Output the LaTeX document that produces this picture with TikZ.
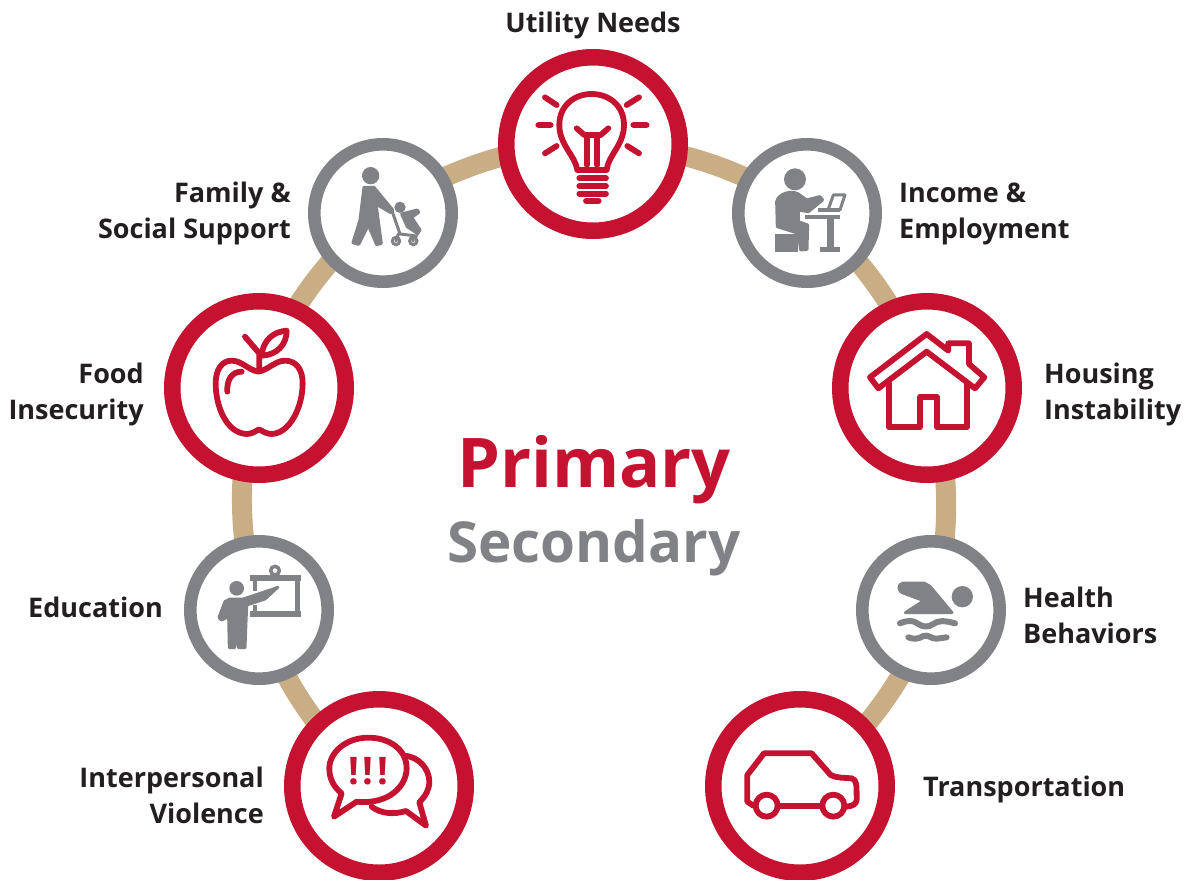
\documentclass[tikz,border=0pt]{standalone}
\usepackage{fontspec}
\setmainfont{Open Sans}
\usetikzlibrary{backgrounds}
\definecolor{ringred}{HTML}{C41230}
\definecolor{ringgrey}{HTML}{808285}
\definecolor{arctan}{HTML}{C9AD84}
\definecolor{labelink}{HTML}{231F20}
\tikzset{
  primaryring/.style={circle,draw=ringred,fill=white,line width=16.5pt,minimum size=173.5pt,inner sep=0pt,outer sep=0pt},
  secondaryring/.style={circle,draw=ringgrey,fill=white,line width=12.6pt,minimum size=137.4pt,inner sep=0pt,outer sep=0pt},
  arcseg/.style={draw=arctan,line width=20pt,looseness=0.85},
  lab/.style={font=\fontsize{27}{36}\selectfont\bfseries,text=labelink,inner sep=0pt},
  redline/.style={draw=ringred,line width=5.8pt,line cap=round,line join=round},
  greyfill/.style={fill=ringgrey,draw=ringgrey,line width=3pt,line join=round},
  greyline/.style={draw=ringgrey,line cap=round,line join=round},
  icon/.style={x=0.3333pt,y=-0.3333pt}
}
\begin{document}
\begin{tikzpicture}[x=1pt,y=-1pt]
\useasboundingbox (0,0) rectangle (1187,879);
% rings
\node[primaryring] (utility) at (593,144) {};
\node[secondaryring] (income) at (807,213) {};
\node[primaryring] (housing) at (927,388) {};
\node[secondaryring] (health) at (931,610) {};
\node[primaryring] (transport) at (800,786) {};
\node[secondaryring] (family) at (383,213) {};
\node[primaryring] (food) at (259,388) {};
\node[secondaryring] (education) at (259,610) {};
\node[primaryring] (violence) at (379,786) {};
\begin{pgfonlayer}{background}
\fill[white] (0,0) rectangle (1187,879);
\draw[arcseg] (utility.center) to[bend left=18] (income.center);
\draw[arcseg] (income.center) to[bend left=18] (housing.center);
\draw[arcseg] (housing.center) to[bend left=18] (health.center);
\draw[arcseg] (health.center) to[bend left=18] (transport.center);
\draw[arcseg] (utility.center) to[bend right=18] (family.center);
\draw[arcseg] (family.center) to[bend right=18] (food.center);
\draw[arcseg] (food.center) to[bend right=18] (education.center);
\draw[arcseg] (education.center) to[bend right=18] (violence.center);
\end{pgfonlayer}
% labels
\node[lab] (lutility) at (593,25) {Utility Needs};
\node[lab,anchor=east,align=right] (lfamily) at (291,213) {Family \&\\Social Support};
\node[lab,anchor=west,align=left] (lincome) at (899,214) {Income \&\\Employment};
\node[lab,anchor=east,align=right] (lfood) at (144,394) {Food\\Insecurity};
\node[lab,anchor=west,align=left] (lhousing) at (1044,394) {Housing\\Instability};
\node[lab,anchor=east] (leducation) at (163,607) {Education};
\node[lab,anchor=west,align=left] (lhealth) at (1023,615) {Health\\Behaviors};
\node[lab,anchor=east,align=right] (lviolence) at (264,795) {Interpersonal\\Violence};
\node[lab,anchor=west] (ltransport) at (923,789) {Transportation};
\node[font=\fontsize{68.5}{68.5}\selectfont\bfseries,text=ringred,inner sep=0pt] (primary) at (594,470) {Primary};
\node[font=\fontsize{56.5}{56.5}\selectfont\bfseries,text=ringgrey,inner sep=0pt] (secondary) at (594,548) {Secondary};
% bulb
\begin{scope}[shift={(490,70)},icon]
\draw[redline] (262,300) .. controls (255,255) and (208,225) .. (208,165) .. controls (208,105) and (255,72) .. (305,72) .. controls (355,72) and (402,105) .. (402,165) .. controls (402,225) and (355,255) .. (350,300) -- cycle;
\draw[redline] (260,175) -- (283,195) -- (332,195) -- (355,175);
\draw[redline] (290,195) -- (290,285) (322,195) -- (322,285);
\draw[redline] (268,325) -- (348,325) (268,348) -- (348,348) (268,371) -- (348,371);
\draw[redline] (288,393) -- (326,393);
\draw[redline] (165,82) -- (200,105) (145,165) -- (182,165) (165,250) -- (200,228);
\draw[redline] (447,82) -- (410,105) (430,165) -- (470,165) (447,250) -- (412,228);
\end{scope}
% family
\begin{scope}[shift={(300,130)},icon]
\fill[ringgrey] (212,137) circle[radius=26];
\path[greyfill] (192,172) -- (222,172) -- (278,240) -- (272,248) -- (228,222) -- (244,340) -- (230,344) -- (205,285) -- (176,343) -- (159,338) -- (180,270) -- cycle;
\fill[ringgrey] (300,232) circle[radius=17];
\path[greyfill] (305,252) -- (352,240) -- (356,247) -- (335,262) -- (360,300) -- (353,311) -- (322,290) -- cycle;
\draw[greyline,line width=3pt] (277,245) -- (300,312) -- (350,318) (295,312) -- (288,333) (335,316) -- (340,333);
\draw[ringgrey,line width=3pt] (288,333) circle[radius=11] (340,333) circle[radius=11];
\end{scope}
% income
\begin{scope}[shift={(725,130)},icon]
\fill[ringgrey] (210,148) circle[radius=33];
\path[greyfill] (157,290) -- (155,215) .. controls (160,190) and (200,180) .. (220,192) -- (245,210) -- (285,200) -- (293,210) -- (250,245) -- (220,240) -- (220,275) -- (248,285) -- (246,358) -- (227,360) -- (220,310) -- cycle;
\fill[ringgrey] (150,312) rectangle (218,366);
\fill[ringgrey] (240,255) rectangle (345,268);
\fill[ringgrey] (306,268) rectangle (328,355);
\fill[ringgrey] (285,352) rectangle (345,366);
\fill[ringgrey] (278,235) rectangle (345,246);
\draw[greyline,line width=3pt] (310,238) -- (325,195) -- (360,195) -- (345,240);
\end{scope}
% apple
\begin{scope}[shift={(160,290)},icon]
\draw[redline] (295,245) .. controls (265,240) and (245,212) .. (215,212) .. controls (185,212) and (167,240) .. (167,280) .. controls (167,350) and (200,430) .. (260,432) .. controls (275,432) and (285,425) .. (297,418) .. controls (310,425) and (320,432) .. (335,432) .. controls (390,430) and (428,350) .. (428,280) .. controls (428,240) and (410,212) .. (375,212) .. controls (345,212) and (325,240) .. (295,245);
\draw[redline] (202,305) .. controls (200,270) and (215,245) .. (245,245);
\draw[redline] (298,240) -- (298,190) -- (255,140);
\draw[redline] (305,195) .. controls (310,150) and (340,125) .. (380,122) .. controls (380,165) and (350,195) .. (305,197);
\end{scope}
% house
\begin{scope}[shift={(825,290)},icon]
\draw[redline] (135,262) -- (305,132) -- (370,182) -- (370,160) -- (432,160) -- (432,222) -- (478,262) -- (450,295) -- (305,185) -- (160,295) -- cycle;
\draw[redline] (192,280) -- (192,412) -- (285,412) -- (285,320) -- (335,320) -- (335,412) -- (425,412) -- (425,280);
\end{scope}
% education
\begin{scope}[shift={(180,530)},icon]
\fill[ringgrey] (170,175) circle[radius=22];
\path[greyfill] (150,207) -- (190,207) -- (280,177) -- (293,172) -- (255,207) -- (200,225) -- (195,353) -- (176,353) -- (170,300) -- (164,353) -- (148,353) -- (146,260) -- (124,270) -- (117,262) -- (135,215) -- cycle;
\fill[ringgrey] (210,136) rectangle (362,153);
\fill[ringgrey] (210,244) rectangle (362,262);
\fill[ringgrey] (344,150) rectangle (359,248);
\fill[ringgrey] (218,150) rectangle (232,182);
\fill[ringgrey] (218,225) rectangle (232,248);
\draw[ringgrey,line width=3.5pt] (285,122) circle[radius=13];
\end{scope}
% health
\begin{scope}[shift={(850,530)},icon]
\fill[ringgrey] (337,200) circle[radius=32];
\path[greyfill] (160,159) -- (222,159) -- (240,169) -- (306,248) -- (166,248) -- (222,212) -- (162,190) .. controls (142,185) and (142,162) .. (160,159) -- cycle;
\draw[greyline,line width=6pt] (150,280) .. controls (175,270) and (190,270) .. (205,282) .. controls (220,292) and (235,292) .. (250,282) .. controls (265,270) and (285,272) .. (315,280);
\draw[greyline,line width=6pt] (175,322) .. controls (190,328) and (205,328) .. (220,318) .. controls (235,312) and (245,328) .. (260,326) -- (290,322);
\end{scope}
% speech bubbles
\begin{scope}[shift={(280,685)},icon]
\draw[redline] (185,325) -- (162,395) -- (230,350) .. controls (330,360) and (380,300) .. (380,250) .. controls (380,195) and (330,158) .. (265,158) .. controls (195,158) and (148,205) .. (148,250) .. controls (148,280) and (160,305) .. (185,325) -- cycle;
\draw[redline] (372,212) .. controls (420,215) and (448,255) .. (448,290) .. controls (448,315) and (435,335) .. (418,352) -- (438,422) -- (378,378) .. controls (340,390) and (300,385) .. (275,365);
\node[font=\fontsize{38}{38}\selectfont\bfseries,text=ringred,inner sep=0pt] (bang) at (265,258) {!\kern4pt!\kern4pt!};
\end{scope}
% car
\begin{scope}[shift={(700,685)},icon]
\draw[redline] (160,362) -- (142,350) -- (142,270) -- (192,205) -- (335,205) -- (392,270) .. controls (410,280) and (435,278) .. (455,280) .. controls (470,285) and (470,295) .. (470,345) .. controls (468,358) and (460,362) .. (440,365);
\draw[redline] (240,362) -- (360,362);
\draw[redline,fill=white] (200,362) circle[radius=33];
\draw[redline,fill=white] (400,362) circle[radius=33];
\end{scope}
\end{tikzpicture}
\end{document}
